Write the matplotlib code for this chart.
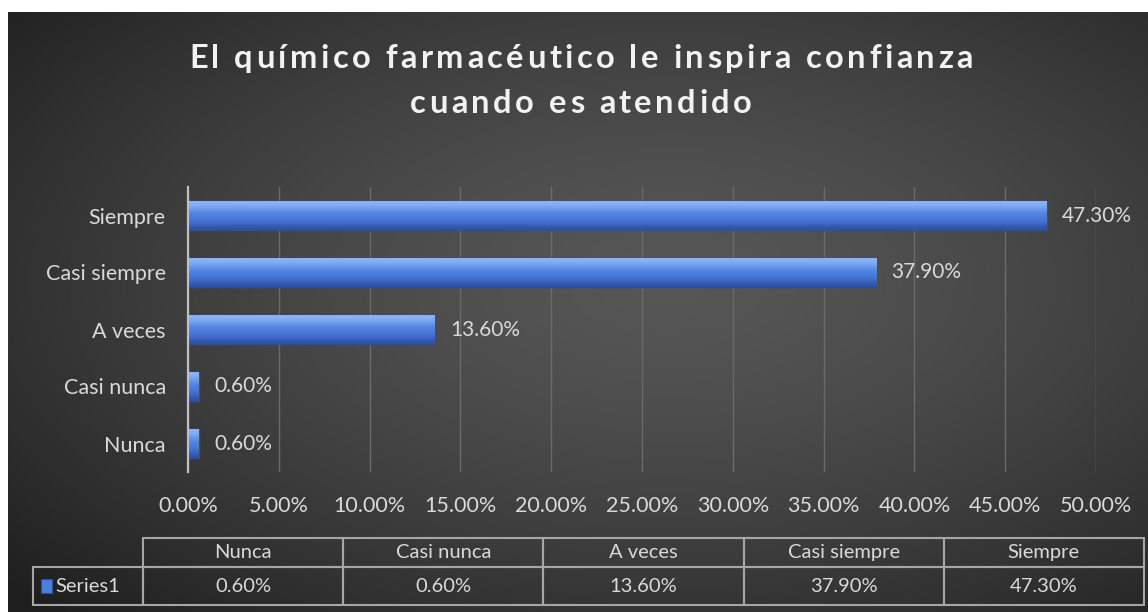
import numpy as np
import matplotlib
matplotlib.use("Agg")
import matplotlib.pyplot as plt
from matplotlib.table import Table
from matplotlib.patches import Rectangle
from matplotlib.font_manager import FontProperties
from matplotlib.ticker import FuncFormatter, MultipleLocator

# data
categories = ["Nunca", "Casi nunca", "A veces", "Casi siempre", "Siempre"]
values = [0.60, 0.60, 13.60, 37.90, 47.30]
series_name = "Series1"
title_lines = ["El químico farmacéutico le inspira confianza", "cuando es atendido"]

W, H = 1148, 612
FONT = ["Lato", "DejaVu Sans"]
TXT = "#d9d9d9"

plt.rcParams["font.family"] = FONT

fig = plt.figure(figsize=(W / 100, H / 100), dpi=100, facecolor="white")

# radial gradient background (chart area leaves a thin white strip top/left)
bg = fig.add_axes([8 / W, 0, (W - 8) / W, (H - 12) / H])
yy, xx = np.mgrid[0:1:300j, 0:1:570j]
r = np.sqrt(((xx - 0.58) / 0.75) ** 2 + ((yy - 0.45) / 0.75) ** 2)
shade = np.clip(0.34 - 0.21 * r ** 1.4, 0.12, 0.4)
bg.imshow(np.dstack([shade] * 3), aspect="auto", extent=[0, 1, 0, 1])
bg.set_axis_off()

# bar chart
ax = fig.add_axes([188 / W, 1 - 472 / H, 908 / W, 285 / H])
ax.set_facecolor("none")
ypos = np.arange(len(categories))
bars = ax.barh(ypos, values, height=0.5, color="#4a7fdc", edgecolor="#2a4f9c",
               linewidth=1.0, zorder=3)

# vertical bevel-ish shading clipped to each bar
grad = np.array([[0.55, 0.70, 0.96], [0.47, 0.65, 0.95], [0.36, 0.55, 0.90],
                 [0.30, 0.50, 0.87], [0.28, 0.47, 0.84], [0.24, 0.41, 0.77],
                 [0.18, 0.32, 0.64]])[:, None, :]
for b in bars:
    x0, y0, w, h = b.get_x(), b.get_y(), b.get_width(), b.get_height()
    im = ax.imshow(grad, extent=[x0, x0 + w, y0, y0 + h], aspect="auto",
                   interpolation="bicubic", zorder=3.5)
    im.set_clip_path(b)

for v, y in zip(values, ypos):
    ax.annotate(f"{v:.2f}%", (v, y), xytext=(11, 0), textcoords="offset points",
                va="center", ha="left", color=TXT, fontsize=15)

ax.set_xlim(0, 50)
ax.set_ylim(-0.5, len(categories) - 0.5)
ax.set_yticks(ypos)
ax.set_yticklabels(categories)
ax.xaxis.set_major_locator(MultipleLocator(5))
ax.xaxis.set_major_formatter(FuncFormatter(lambda x, p: f"{x:.2f}%"))
ax.tick_params(axis="x", length=0, pad=17, labelsize=15.5, labelcolor=TXT)
ax.tick_params(axis="y", length=0, pad=16, labelsize=15.5, labelcolor=TXT)
ax.grid(axis="x", color="#6a6a6a", linewidth=1.0, zorder=0)
ax.set_axisbelow(True)
for s in ["top", "right", "bottom"]:
    ax.spines[s].set_visible(False)
ax.spines["left"].set_color("#bfbfbf")
ax.spines["left"].set_linewidth(1.6)
ax.spines["left"].set_zorder(5)

# data table below the chart
tax = fig.add_axes([33 / W, 1 - 605 / H, (1144 - 33) / W, (605 - 538) / H])
tax.set_axis_off()
tab = Table(tax, bbox=[0, 0, 1, 1])
lab_w, col_w, h_head, h_val = 110, 200.2, 29, 38
for j, c in enumerate(categories):
    tab.add_cell(0, j + 1, col_w, h_head, text=c, loc="center")
    tab.add_cell(1, j + 1, col_w, h_val, text=f"{values[j]:.2f}%", loc="center")
tab.add_cell(1, 0, lab_w, h_val, text=series_name, loc="center")
tab.auto_set_font_size(False)
tab.set_fontsize(14.5)
for cell in tab.get_celld().values():
    cell.set_facecolor("none")
    cell.set_edgecolor("#a6a6a6")
    cell.set_linewidth(1.5)
    cell.get_text().set_color(TXT)
    cell.get_text().set_fontfamily(FONT)
tax.add_table(tab)

# legend key in the table
fig.patches.append(Rectangle((41 / W, 1 - 593 / H), 11 / W, 14 / H,
                             transform=fig.transFigure, facecolor="#4a7fdc",
                             edgecolor="#2a4f9c", linewidth=0.8))

# title with letter spacing
renderer = fig.canvas.get_renderer()
tprop = FontProperties(family=FONT, weight="bold", size=23.5)
target = 784.0
widths1 = [renderer.get_text_width_height_descent(ch, tprop, ismath=False)[0]
           for ch in title_lines[0]]
track = (target - sum(widths1)) / (len(title_lines[0]) - 1)
for line, base in zip(title_lines, [68, 113]):
    ws = [renderer.get_text_width_height_descent(ch, tprop, ismath=False)[0]
          for ch in line]
    total = sum(ws) + track * (len(line) - 1)
    x = 581 - total / 2
    for ch, w in zip(line, ws):
        fig.text(x / W, 1 - base / H, ch, fontproperties=tprop, color="#f2f2f2",
                 ha="left", va="baseline")
        x += w + track

fig.savefig("out.png", dpi=100, facecolor=fig.get_facecolor())
